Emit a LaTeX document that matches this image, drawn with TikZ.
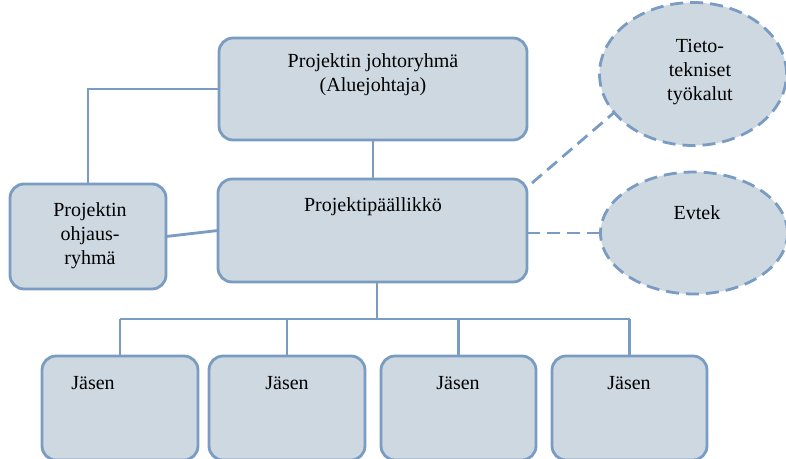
\documentclass[tikz,border=0pt]{standalone}
\usepackage{fontspec}
\setmainfont{Liberation Serif}
\usetikzlibrary{shapes.geometric}
\definecolor{boxfill}{HTML}{CDD8E0}
\definecolor{boxline}{HTML}{7A9CC2}
\tikzset{
  orgbox/.style={draw=boxline, fill=boxfill, line width=2.8pt, rounded corners=14pt,
    rectangle, anchor=north west, inner sep=0pt, outer sep=0pt},
  cloud/.style={draw=boxline, fill=boxfill, line width=2.8pt, ellipse,
    dash pattern=on 13pt off 7pt, inner sep=0pt, outer sep=0pt},
  label/.style={font=\fontsize{20}{24}\selectfont, align=center, inner sep=0pt},
  link/.style={draw=boxline, line width=2.8pt},
  dlink/.style={link, dash pattern=on 13pt off 7pt}
}
\begin{document}
\begin{tikzpicture}[x=1pt, y=-1pt]
  \useasboundingbox (0,0) rectangle (786,458);
  \clip (0,0) rectangle (786,458);

  % boxes
  \node[orgbox, minimum width=308pt, minimum height=102pt] (top) at (219,38) {};
  \node[orgbox, minimum width=309pt, minimum height=103pt] (mid) at (218,179) {};
  \node[orgbox, minimum width=156pt, minimum height=105pt] (left) at (10,184) {};
  \node[orgbox, minimum width=156pt, minimum height=104pt] (j1) at (42,356) {};
  \node[orgbox, minimum width=156pt, minimum height=104pt] (j2) at (209,356) {};
  \node[orgbox, minimum width=155pt, minimum height=104pt] (j3) at (381,356) {};
  \node[orgbox, minimum width=155pt, minimum height=104pt] (j4) at (552,356) {};

  % ellipses
  \node[cloud, minimum width=187pt, minimum height=143pt] (ell1) at (693,74) {};
  \node[cloud, minimum width=187pt, minimum height=122pt] (ell2) at (694,233) {};

  % texts
  \node[label] (ttop) at (373,75) {Projektin johtoryhmä\\(Aluejohtaja)};
  \node[label] (tmid) at (373,207) {Projektipäällikkö};
  \node[label] (tleft) at (90,236) {Projektin\\ohjaus-\\ryhmä};
  \node[label] (tell1) at (700,72) {Tieto-\\tekniset\\työkalut};
  \node[label] (tell2) at (697,213) {Evtek};
  \node[label] (tj1) at (93,383) {Jäsen};
  \node[label] (tj2) at (287,383) {Jäsen};
  \node[label] (tj3) at (458,383) {Jäsen};
  \node[label] (tj4) at (629,383) {Jäsen};

  % connectors
  \draw[link] (top.south) -- (top.south |- mid.north);
  \draw[link] (top.west) -| (left.north);
  \draw[link] (left.east) -- (mid.west);
  \coordinate (d1) at (532,183);
  \draw[dlink] (d1) -- (ell1.206.6);
  \draw[dlink] (mid.east |- ell2.west) -- (ell2.west);

  % member tree
  \coordinate (bus) at (377,319);
  \draw[link] (bus |- mid.south) -- (bus);
  \draw[link] (j1.north |- bus) -- (j4.north |- bus);
  \foreach \j in {j1,j2,j3,j4}
    \draw[link] (\j.north |- bus) -- (\j.north);
\end{tikzpicture}
\end{document}
